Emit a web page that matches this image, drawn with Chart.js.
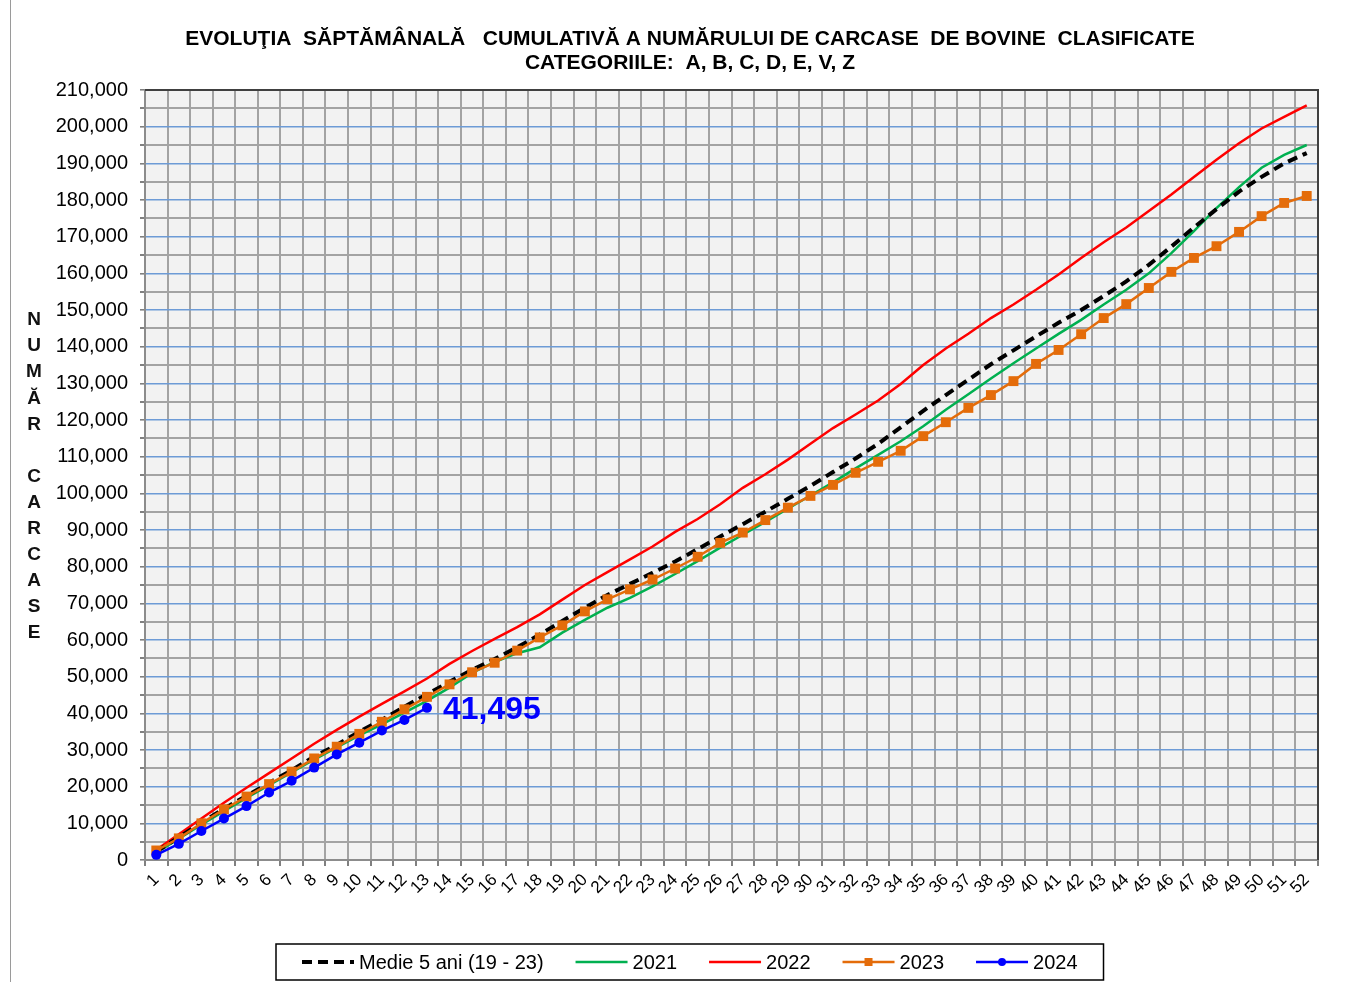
<!DOCTYPE html>
<html>
<head>
<meta charset="utf-8">
<script src="https://cdn.jsdelivr.net/npm/chart.js@4.4.1/dist/chart.umd.min.js"></script>
<style>
  html, body { margin: 0; padding: 0; background: #fff; }
</style>
</head>
<body>
<canvas id="chart" width="1357" height="982"></canvas>
<script>
const weeks = ['1','2','3','4','5','6','7','8','9','10','11','12','13','14','15','16','17','18','19','20',
  '21','22','23','24','25','26','27','28','29','30','31','32','33','34','35','36','37','38','39','40',
  '41','42','43','44','45','46','47','48','49','50','51','52'];

const avg5 = [2300, 6200, 10200, 14000, 17500, 21000, 24500, 28200, 31400, 35000, 38200, 41800, 45200,
  48600, 51900, 54800, 58000, 61500, 65200, 68800, 72300, 75300, 78300, 81400, 84800, 88200, 91600,
  95000, 98500, 102000, 105800, 109500, 113500, 118000, 122500, 126800, 131000, 135200, 139000,
  142800, 146500, 150000, 153800, 157800, 162300, 167300, 172500, 177500, 182300, 186300, 190000, 192800];

const y2021 = [2000, 5800, 9600, 13300, 16900, 20400, 23900, 27400, 30700, 34000, 37000, 40200, 43400,
  47000, 51000, 54000, 56400, 58000, 62000, 65500, 68800, 71500, 74600, 78000, 81500, 85200, 88700,
  92200, 95800, 99400, 103000, 106800, 110500, 114200, 118300, 122800, 127000, 131300, 135500,
  139500, 143500, 147300, 151500, 155500, 160000, 165500, 171500, 177800, 183500, 188800, 192300, 195000];

const y2022 = [2800, 7000, 11300, 15600, 19700, 23700, 27700, 31700, 35500, 39100, 42600, 46000, 49500,
  53500, 57000, 60300, 63500, 67000, 71000, 75000, 78500, 82000, 85500, 89500, 93000, 97000, 101500,
  105200, 109200, 113500, 117800, 121500, 125300, 129800, 135000, 139500, 143500, 147800, 151500,
  155500, 159700, 164200, 168500, 172500, 177000, 181500, 186300, 191000, 195500, 199500, 202700, 205800];

const y2023 = [2600, 5900, 10000, 13800, 17300, 20700, 24100, 27700, 30900, 34400, 37700, 41100, 44500,
  47900, 51200, 53800, 57100, 60700, 64000, 67800, 71100, 73800, 76500, 79500, 82700, 86500, 89300,
  92700, 96100, 99300, 102300, 105600, 108600, 111600, 115600, 119400, 123300, 126800, 130600,
  135300, 139100, 143400, 147800, 151600, 156000, 160400, 164200, 167400, 171300, 175600, 179200, 181100];

const y2024 = [1400, 4400, 7900, 11300, 14700, 18400, 21600, 25200, 28800, 32000, 35300, 38200, 41495];

const seriesNames = ['Medie 5 ani (19 - 23)', '2021', '2022', '2023', '2024'];
const yTicks = { min: 0, max: 210000, minor: 5000, major: 10000 };

const titleLines = [
  'EVOLUŢIA  SĂPTĂMÂNALĂ   CUMULATIVĂ A NUMĂRULUI DE CARCASE  DE BOVINE  CLASIFICATE',
  'CATEGORIILE:  A, B, C, D, E, V, Z'
];
const yLetters = ['N', 'U', 'M', 'Ă', 'R', '', 'C', 'A', 'R', 'C', 'A', 'S', 'E'];

Chart.defaults.font.family = '"Liberation Sans", Arial, sans-serif';
Chart.defaults.color = '#000';

const BLUE_GRID = '#6d9bd6';
const GRAY_GRID = '#a3a3a3';

const decor = {
  id: 'decor',
  beforeDraw(chart) {
    const { ctx, chartArea: a } = chart;
    ctx.save();
    ctx.fillStyle = '#fff';
    ctx.fillRect(0, 0, chart.width, chart.height);
    ctx.fillStyle = '#f2f2f2';
    ctx.fillRect(a.left, a.top, a.right - a.left, a.bottom - a.top);
    // outer frame line on the left
    ctx.strokeStyle = '#9a9a9a';
    ctx.lineWidth = 1;
    ctx.beginPath();
    ctx.moveTo(10.5, 0);
    ctx.lineTo(10.5, chart.height);
    ctx.stroke();
    ctx.restore();
  },
  afterDraw(chart) {
    const { ctx, chartArea: a } = chart;
    ctx.save();
    // dark top/right border of the plot
    ctx.strokeStyle = '#404040';
    ctx.lineWidth = 2;
    ctx.beginPath();
    ctx.moveTo(a.left, a.top);
    ctx.lineTo(a.right, a.top);
    ctx.lineTo(a.right, a.bottom);
    ctx.stroke();

    // title
    ctx.fillStyle = '#000';
    ctx.font = 'bold 21px "Liberation Sans", Arial, sans-serif';
    ctx.textAlign = 'center';
    ctx.textBaseline = 'middle';
    ctx.fillText(titleLines[0], 690, 39);
    ctx.fillText(titleLines[1], 690, 63);

    // stacked axis title
    ctx.font = 'bold 19px "Liberation Sans", Arial, sans-serif';
    ctx.fillStyle = '#111';
    yLetters.forEach((ch, i) => ctx.fillText(ch, 34, 320 + i * 26.1));

    // value label on last 2024 point
    const meta = chart.getDatasetMeta(4);
    const last = meta.data[meta.data.length - 1];
    ctx.font = 'bold 32px "Liberation Sans", Arial, sans-serif';
    ctx.fillStyle = '#0000ff';
    ctx.textAlign = 'left';
    ctx.fillText(y2024[y2024.length - 1].toLocaleString('en-US'), last.x + 16, last.y + 2);

    // legend
    const ds = chart.data.datasets;
    ctx.font = '20px "Liberation Sans", Arial, sans-serif';
    const sample = 52, gapTxt = 5, gapItem = 32, padX = 26;
    const widths = ds.map(d => sample + gapTxt + ctx.measureText(d.label).width);
    const total = widths.reduce((s, w) => s + w, 0) + gapItem * (ds.length - 1) + padX * 2;
    const bx = Math.round(690 - total / 2), by = 944, bh = 36;
    ctx.strokeStyle = '#000';
    ctx.lineWidth = 1.5;
    ctx.strokeRect(bx, by, total, bh);
    let x = bx + padX;
    const cy = by + bh / 2;
    ds.forEach((d, i) => {
      ctx.strokeStyle = d.borderColor;
      ctx.lineWidth = d.borderWidth;
      ctx.setLineDash(d.borderDash || []);
      ctx.beginPath();
      ctx.moveTo(x, cy);
      ctx.lineTo(x + sample, cy);
      ctx.stroke();
      ctx.setLineDash([]);
      if (d.pointRadius > 0) {
        ctx.fillStyle = d.pointBackgroundColor;
        ctx.beginPath();
        if (d.pointStyle === 'rect') {
          ctx.rect(x + sample / 2 - 4, cy - 4, 8, 8);
        } else {
          ctx.arc(x + sample / 2, cy, 4, 0, Math.PI * 2);
        }
        ctx.fill();
      }
      ctx.fillStyle = '#000';
      ctx.textAlign = 'left';
      ctx.fillText(d.label, x + sample + gapTxt, cy + 1);
      x += widths[i] + gapItem;
    });
    ctx.restore();
  }
};

new Chart(document.getElementById('chart'), {
  type: 'line',
  data: {
    labels: weeks,
    datasets: [
      { label: seriesNames[0], data: avg5, borderColor: '#000', borderWidth: 4, borderDash: [10, 6],
        pointRadius: 0, tension: 0, order: 2 },
      { label: seriesNames[1], data: y2021, borderColor: '#00b050', borderWidth: 2.5,
        pointRadius: 0, tension: 0, order: 4 },
      { label: seriesNames[2], data: y2022, borderColor: '#ff0000', borderWidth: 2.5,
        pointRadius: 0, tension: 0, order: 3 },
      { label: seriesNames[3], data: y2023, borderColor: '#e46c0a', borderWidth: 2.5,
        pointStyle: 'rect', pointRadius: 7, pointBackgroundColor: '#e46c0a', pointBorderWidth: 0,
        tension: 0, order: 1 },
      { label: seriesNames[4], data: y2024, borderColor: '#0000ff', borderWidth: 2.5,
        pointStyle: 'circle', pointRadius: 5, pointBackgroundColor: '#0000ff', pointBorderWidth: 0,
        tension: 0, order: 0 }
    ]
  },
  options: {
    responsive: false,
    animation: false,
    devicePixelRatio: 1,
    layout: { padding: { top: 90, right: 39, left: 0, bottom: 0 } },
    plugins: {
      legend: { display: false },
      title: { display: false },
      tooltip: { enabled: false }
    },
    scales: {
      x: {
        offset: true,
        afterFit(scale) { scale.height = 122; },
        grid: { offset: true, color: GRAY_GRID, lineWidth: 2, tickLength: 6, tickColor: '#808080' },
        border: { color: '#8c8c8c', width: 2 },
        ticks: { autoSkip: false, minRotation: 45, maxRotation: 45, padding: 4,
          font: { size: 17 }, color: '#000' }
      },
      y: {
        min: yTicks.min,
        max: yTicks.max,
        afterFit(scale) { scale.width = 145; },
        grid: {
          color: c => (c.tick && c.tick.value % yTicks.major === 0) ? BLUE_GRID : GRAY_GRID,
          lineWidth: c => (c.tick && c.tick.value % yTicks.major === 0) ? 1.6 : 2,
          tickLength: 5,
          tickColor: '#808080'
        },
        border: { color: '#8c8c8c', width: 2 },
        ticks: {
          stepSize: yTicks.minor,
          autoSkip: false,
          padding: 12,
          font: { size: 20 },
          color: '#000',
          callback: v => (v % yTicks.major === 0) ? v.toLocaleString('en-US') : ''
        }
      }
    }
  },
  plugins: [decor]
});
</script>
</body>
</html>
